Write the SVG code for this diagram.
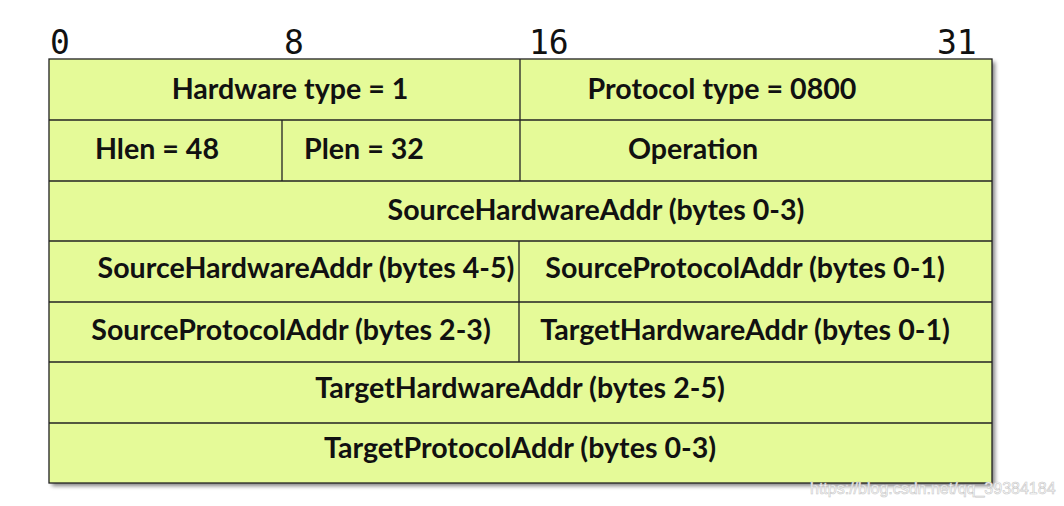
<svg xmlns="http://www.w3.org/2000/svg" width="1064" height="506" viewBox="0 0 1064 506">
<defs>
<style>
.cell{fill:#e5fa98;stroke:none}
.ln{stroke:#222;stroke-width:1.3;fill:none}
.lbl{font-family:Lato,"Open Sans",sans-serif;font-weight:bold;font-size:28.6px;fill:#111;text-anchor:middle}
.num{font-family:"DejaVu Sans Mono","Liberation Mono",monospace;font-size:33px;fill:#111}
.wm{font-family:"Liberation Sans",Arial,sans-serif;font-size:16px;fill:#fff;stroke:#c8c8c8;stroke-width:0.6}
</style>
<filter id="sh" x="-5%" y="-5%" width="110%" height="110%">
<feGaussianBlur in="SourceAlpha" stdDeviation="2"/>
<feOffset dx="3" dy="3"/>
<feComponentTransfer><feFuncA type="linear" slope="0.5"/></feComponentTransfer>
<feMerge><feMergeNode/><feMergeNode in="SourceGraphic"/></feMerge>
</filter>
</defs>
<rect x="0" y="0" width="1064" height="506" fill="#fff"/>
<g id="bit-ruler">
<text class="num" x="50" y="54">0</text>
<text class="num" x="284" y="54">8</text>
<text class="num" x="529" y="54">16</text>
<text class="num" x="937" y="54">31</text>
</g>
<g id="frame" filter="url(#sh)">
<rect class="cell" x="49" y="59" width="943" height="424"/>
</g>
<g id="connectors">
<rect class="ln" x="49" y="59" width="943" height="424"/>
<line class="ln" x1="49" y1="120" x2="992" y2="120"/>
<line class="ln" x1="49" y1="181" x2="992" y2="181"/>
<line class="ln" x1="49" y1="241" x2="992" y2="241"/>
<line class="ln" x1="49" y1="302" x2="992" y2="302"/>
<line class="ln" x1="49" y1="362" x2="992" y2="362"/>
<line class="ln" x1="49" y1="423" x2="992" y2="423"/>
<line class="ln" x1="520" y1="59" x2="520" y2="181"/>
<line class="ln" x1="282" y1="120" x2="282" y2="181"/>
<line class="ln" x1="519" y1="241" x2="519" y2="362"/>
</g>
<g id="hardware-type"><text class="lbl" x="290" y="99">Hardware type = 1</text></g>
<g id="protocol-type"><text class="lbl" x="722" y="99">Protocol type = 0800</text></g>
<g id="hlen"><text class="lbl" x="157" y="159">Hlen = 48</text></g>
<g id="plen"><text class="lbl" x="364" y="159">Plen = 32</text></g>
<g id="operation"><text class="lbl" x="693" y="159">Operation</text></g>
<g id="sha-0-3"><text class="lbl" x="596" y="220">SourceHardwareAddr (bytes 0-3)</text></g>
<g id="sha-4-5"><text class="lbl" x="306" y="278">SourceHardwareAddr (bytes 4-5)</text></g>
<g id="spa-0-1"><text class="lbl" x="745" y="278">SourceProtocolAddr (bytes 0-1)</text></g>
<g id="spa-2-3"><text class="lbl" x="291" y="340">SourceProtocolAddr (bytes 2-3)</text></g>
<g id="tha-0-1"><text class="lbl" x="745" y="340">TargetHardwareAddr (bytes 0-1)</text></g>
<g id="tha-2-5"><text class="lbl" x="520" y="398">TargetHardwareAddr (bytes 2-5)</text></g>
<g id="tpa-0-3"><text class="lbl" x="520" y="458">TargetProtocolAddr (bytes 0-3)</text></g>
<text class="wm" x="810" y="494">https://blog.csdn.net/qq_39384184</text>
</svg>
